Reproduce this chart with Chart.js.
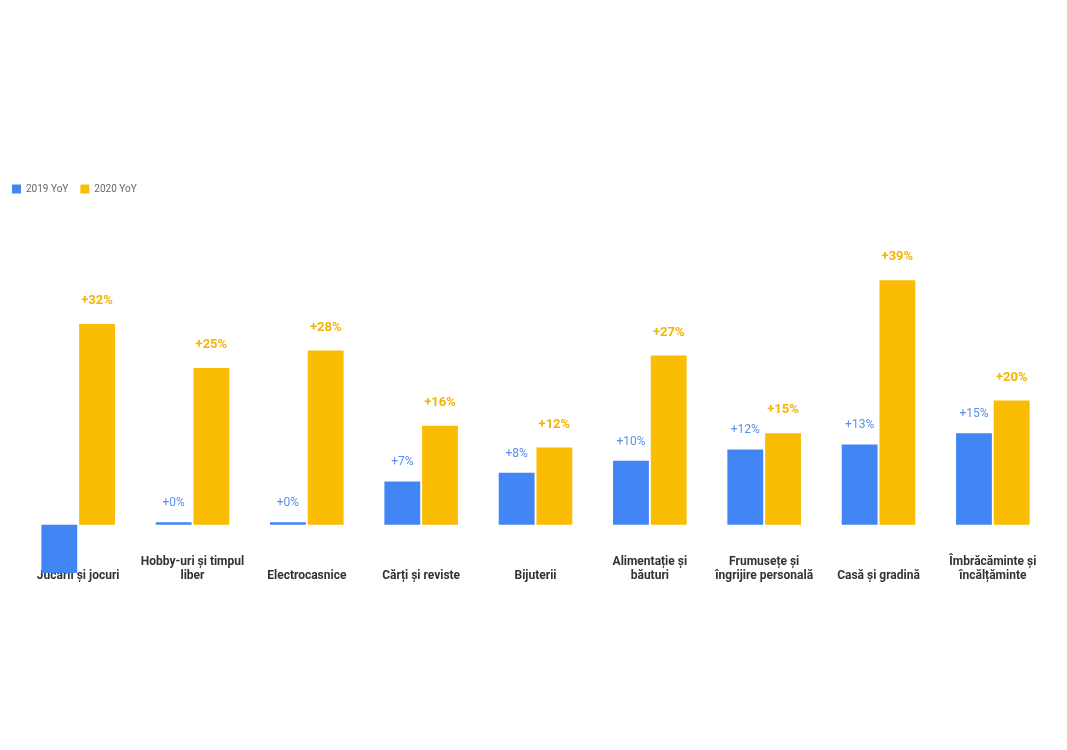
<!DOCTYPE html>
<html>
<head>
<meta charset="utf-8">
<script src="https://cdn.jsdelivr.net/npm/chart.js@4/dist/chart.umd.min.js"></script>
<style>
  html, body { margin: 0; padding: 0; background: #fff; }
  #wrap { width: 1067px; height: 750px; }
</style>
</head>
<body>
<div id="wrap"><canvas id="barChart" width="1067" height="750"></canvas></div>
<script>
// categorii (ultima linie a etichetei e aliniata jos)
const categories = [
    ['', 'Jucării și jocuri'],
    ['Hobby-uri și timpul', 'liber'],
    ['', 'Electrocasnice'],
    ['', 'Cărți și reviste'],
    ['', 'Bijuterii'],
    ['Alimentație și', 'băuturi'],
    ['Frumusețe și', 'îngrijire personală'],
    ['', 'Casă și gradină'],
    ['Îmbrăcăminte și', 'încălțăminte']
];
const yoy2019 = [-7.7, 0.4, 0.4, 6.9, 8.3, 10.2, 12, 12.8, 14.6];
const yoy2020 = [32, 25, 27.8, 15.8, 12.3, 27, 14.6, 39, 19.8];
const seriesNames = ['2019 YoY', '2020 YoY'];

// etichete deasupra barelor
const valueLabels = {
    id: 'valueLabels',
    afterDatasetsDraw(chart) {
        const ctx = chart.ctx;
        chart.data.datasets.forEach((ds, i) => {
            const meta = chart.getDatasetMeta(i);
            meta.data.forEach((bar, j) => {
                const v = ds.data[j];
                if (v < 0) return; // eticheta negativa nu apare
                ctx.save();
                ctx.fillStyle = ds.labelColor;
                ctx.font = ds.labelFont;
                ctx.textAlign = 'center';
                ctx.textBaseline = 'middle';
                ctx.fillText('+' + Math.round(v) + '%', bar.x, bar.y - ds.labelOffset);
                ctx.restore();
            });
        });
    }
};

const ctx = document.getElementById('barChart').getContext('2d');
const barChart = new Chart(ctx, {
    type: 'bar',
    data: {
        labels: categories,
        datasets: [
            {
                label: seriesNames[0],
                data: yoy2019,
                backgroundColor: '#4285F4',
                labelColor: '#5a8ef0',
                labelFont: '12px Roboto',
                labelOffset: 19,
                clip: false
            },
            {
                label: seriesNames[1],
                data: yoy2020,
                backgroundColor: '#FBBC04',
                labelColor: '#F4B400',
                labelFont: 'bold 13px Roboto',
                labelOffset: 23,
                clip: false
            }
        ]
    },
    options: {
        responsive: false,
        animation: false,
        layout: { padding: { top: 172, right: 17, bottom: 164, left: 0 } },
        datasets: {
            bar: { categoryPercentage: 0.66, barPercentage: 0.95 }
        },
        plugins: {
            legend: {
                position: 'top',
                align: 'start',
                labels: {
                    boxWidth: 9,
                    boxHeight: 9,
                    padding: 12,
                    color: '#666',
                    font: { family: 'Roboto', size: 10 }
                }
            },
            tooltip: { enabled: false }
        },
        scales: {
            x: {
                z: 1,
                grid: { display: false },
                border: { display: false },
                ticks: {
                    padding: 3,
                    maxRotation: 0,
                    autoSkip: false,
                    color: '#333',
                    font: { family: 'Roboto', size: 12, weight: 'bold', lineHeight: 1.15 }
                }
            },
            y: {
                min: -3.14,
                max: 51.15,
                grid: { display: false },
                border: { display: false },
                ticks: { display: false },
                afterFit: (scale) => { scale.width = 21; }
            }
        }
    },
    plugins: [valueLabels]
});
</script>
</body>
</html>
